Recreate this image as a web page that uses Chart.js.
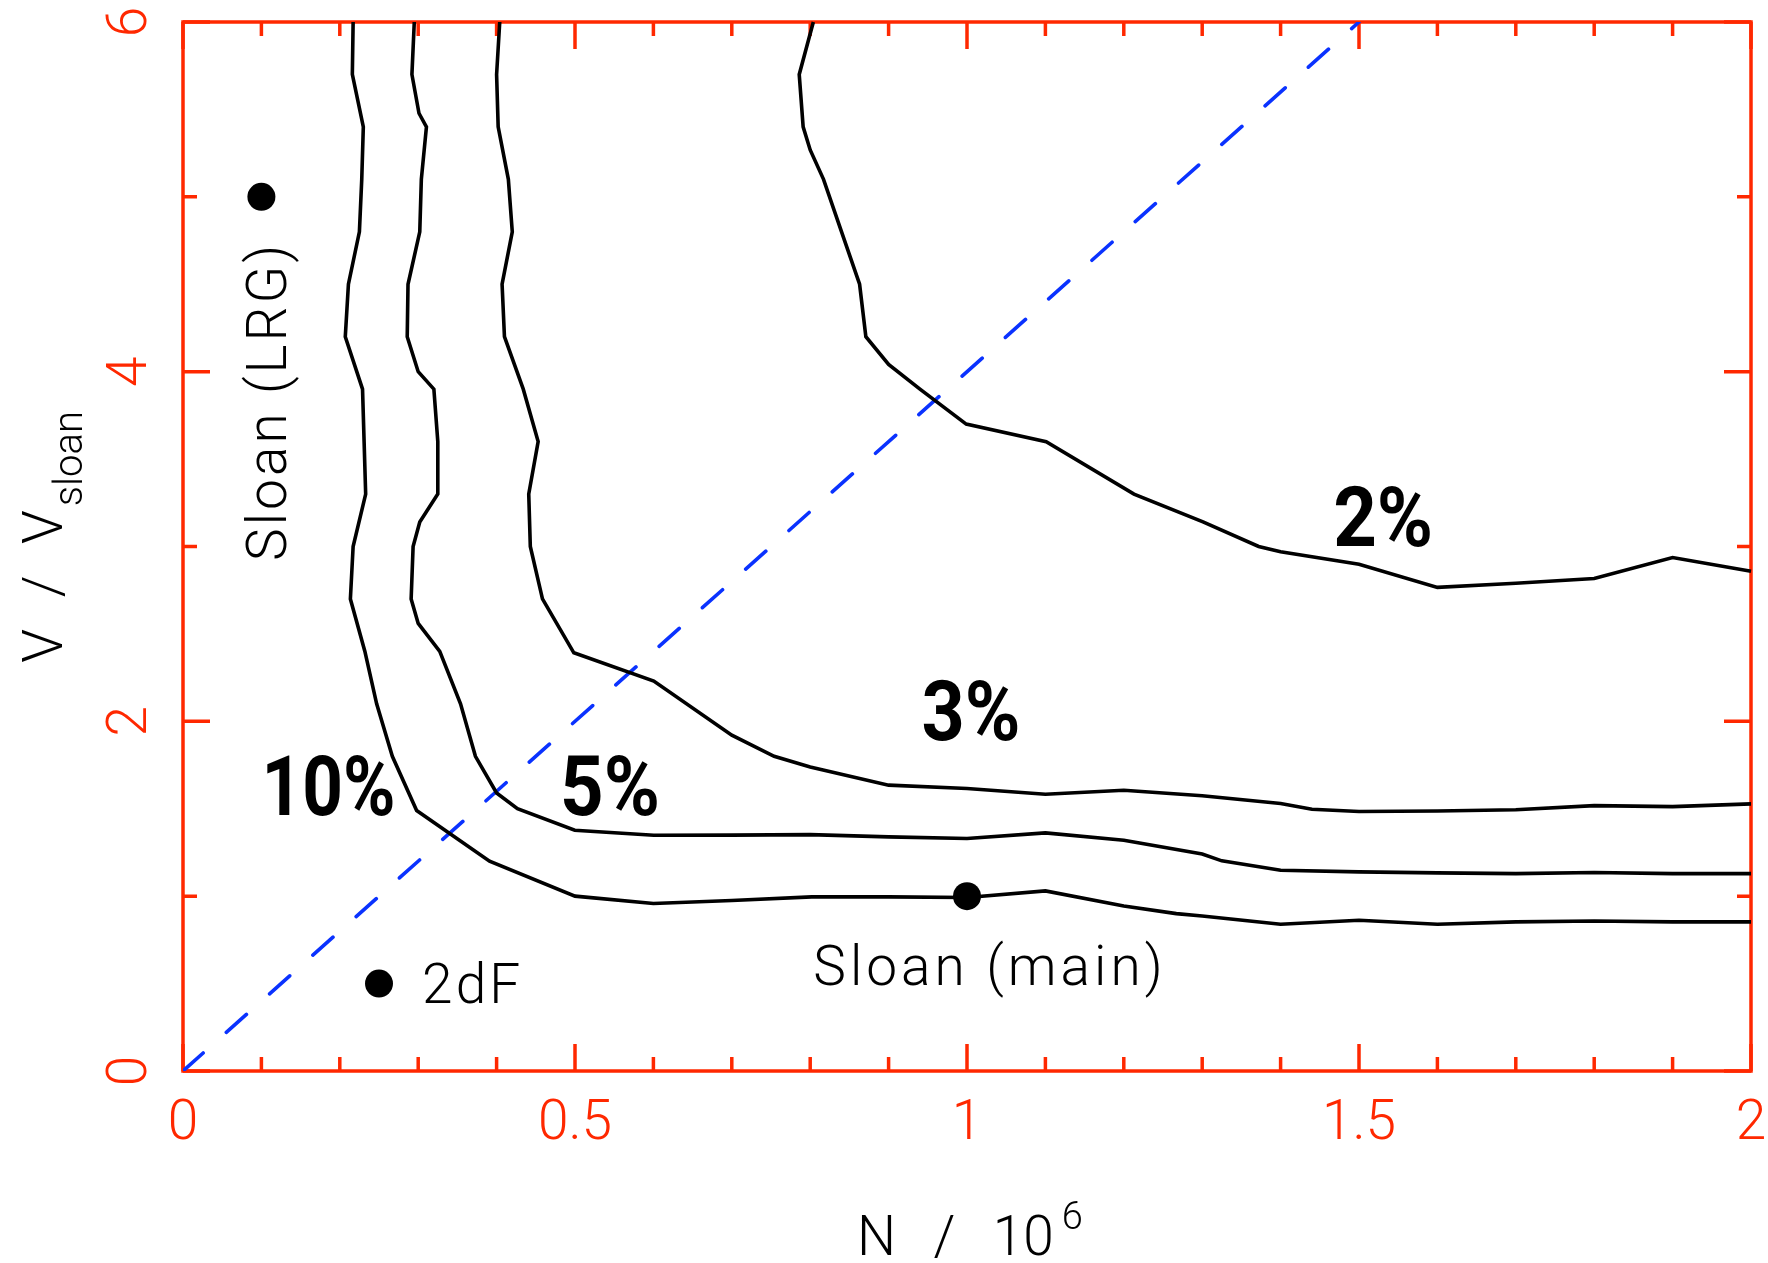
<!DOCTYPE html>
<html>
<head>
<meta charset="utf-8">
<title>Survey precision contours</title>
<script src="https://cdn.jsdelivr.net/npm/chart.js@4.4.1/dist/chart.umd.min.js"></script>
<style>
  html, body { margin: 0; padding: 0; background: #ffffff; }
  canvas { display: block; }
</style>
</head>
<body>
<canvas id="chart" width="1768" height="1263"></canvas>
<script>
// Fractional-error contours in the (N / 10^6, V / V_sloan) plane.
const contourLevels = ['10%', '5%', '3%', '2%'];

const c10N = [0.217, 0.216, 0.230, 0.228, 0.225, 0.211, 0.207, 0.229, 0.231, 0.233, 0.217, 0.2135,
              0.232, 0.247, 0.267, 0.298, 0.391, 0.500, 0.600, 0.700, 0.802, 0.900, 1.000, 1.100,
              1.200, 1.267, 1.300, 1.400, 1.500, 1.600, 1.700, 1.800, 1.900, 2.000];
const c10V = [6.0, 5.7, 5.4, 5.1, 4.8, 4.5, 4.2, 3.9, 3.6, 3.3, 3.0, 2.7,
              2.4, 2.1, 1.8, 1.49, 1.20, 1.00, 0.958, 0.975, 0.996, 0.996, 0.992, 1.030,
              0.944, 0.900, 0.887, 0.839, 0.862, 0.839, 0.853, 0.858, 0.853, 0.853];

const c5N = [0.295, 0.292, 0.301, 0.3105, 0.304, 0.302, 0.287, 0.286, 0.300, 0.320, 0.325, 0.325,
             0.302, 0.2935, 0.291, 0.300, 0.3275, 0.354, 0.373, 0.400, 0.4266, 0.4997, 0.6005, 0.700,
             0.800, 0.900, 1.000, 1.100, 1.200, 1.300, 1.325, 1.400, 1.500, 1.600, 1.700, 1.800,
             1.900, 2.000];
const c5V = [6.0, 5.7, 5.478, 5.4, 5.1, 4.8, 4.5, 4.2, 4.0, 3.9, 3.6, 3.3,
             3.14, 3.0, 2.70, 2.56, 2.4, 2.1, 1.8, 1.59, 1.50, 1.377, 1.348, 1.349,
             1.352, 1.339, 1.330, 1.362, 1.320, 1.241, 1.202, 1.148, 1.139, 1.133, 1.129, 1.135,
             1.129, 1.129];

const c3N = [0.404, 0.400, 0.402, 0.415, 0.420, 0.407, 0.410, 0.434, 0.453, 0.441, 0.443, 0.4585,
             0.4985, 0.6005, 0.700, 0.754, 0.800, 0.900, 1.000, 1.100, 1.200, 1.300, 1.400, 1.440,
             1.500, 1.600, 1.700, 1.800, 1.900, 2.000];
const c3V = [6.0, 5.7, 5.4, 5.1, 4.8, 4.5, 4.2, 3.9, 3.6, 3.3, 3.0, 2.7,
             2.392, 2.23, 1.921, 1.80, 1.739, 1.635, 1.616, 1.583, 1.606, 1.574, 1.530, 1.497,
             1.484, 1.487, 1.494, 1.518, 1.512, 1.528];

const c2N = [0.804, 0.786, 0.791, 0.800, 0.817, 0.840, 0.863, 0.871, 0.900, 0.940, 0.999, 1.101,
             1.213, 1.301, 1.372, 1.400, 1.500, 1.600, 1.700, 1.800, 1.900, 2.000];
const c2V = [6.0, 5.7, 5.4, 5.268, 5.1, 4.8, 4.5, 4.2, 4.041, 3.9, 3.70, 3.599,
             3.30, 3.141, 3.0, 2.970, 2.899, 2.766, 2.790, 2.817, 2.937, 2.858];

// Reference line V / V_sloan = 4 N / 10^6
const diagN = [0, 1.5];
const diagV = [0, 6];

// Existing surveys
const surveyNames = ['Sloan (LRG)', '2dF', 'Sloan (main)'];
const surveyN = [0.1, 0.25, 1.0];
const surveyV = [5.0, 0.5, 1.0];

// Axis ticks
const xTickValues = [0, 0.5, 1, 1.5, 2];
const xTickLabels = ['0', '0.5', '1', '1.5', '2'];
const yTickValues = [0, 2, 4, 6];
const yTickLabels = ['0', '2', '4', '6'];

const RED = 'rgb(255,40,0)';
const BLUE = 'rgb(10,50,255)';
const INK = '#000000';
const THIN_FONT = '"Roboto", "Liberation Sans", sans-serif';

const pts = (xs, ys) => xs.map((v, i) => ({ x: v, y: ys[i] }));

const contourSets = [[c10N, c10V], [c5N, c5V], [c3N, c3V], [c2N, c2V]].map((pair, i) => ({
  label: contourLevels[i],
  data: pts(pair[0], pair[1]),
  showLine: true,
  borderColor: INK,
  borderWidth: 3.6,
  pointRadius: 0,
  tension: 0,
  borderJoinStyle: 'miter',
  clip: 4
}));

// Frame, ticks and tick labels in IDL style (drawn beneath the curves)
const frameAxes = {
  id: 'frameAxes',
  beforeDatasetsDraw(chart) {
    const { ctx, chartArea: a, scales: { x, y } } = chart;
    ctx.save();
    ctx.strokeStyle = RED;
    ctx.lineWidth = 3.5;
    ctx.beginPath();
    for (let i = 0; i <= 20; i++) {
      const px = x.getPixelForValue(i / 10);
      const len = i % 5 === 0 ? 27 : 14;
      ctx.moveTo(px, a.bottom); ctx.lineTo(px, a.bottom - len);
      ctx.moveTo(px, a.top); ctx.lineTo(px, a.top + len);
    }
    for (let j = 0; j <= 6; j++) {
      const py = y.getPixelForValue(j);
      const len = j % 2 === 0 ? 27 : 14;
      ctx.moveTo(a.left, py); ctx.lineTo(a.left + len, py);
      ctx.moveTo(a.right, py); ctx.lineTo(a.right - len, py);
    }
    ctx.stroke();
    ctx.strokeRect(a.left, a.top, a.right - a.left, a.bottom - a.top);

    ctx.fillStyle = RED;
    ctx.font = '300 55px ' + THIN_FONT;
    ctx.textAlign = 'center';
    ctx.textBaseline = 'alphabetic';
    xTickValues.forEach((v, i) => {
      ctx.fillText(xTickLabels[i], x.getPixelForValue(v), a.bottom + 68);
    });
    yTickValues.forEach((v, i) => {
      ctx.save();
      ctx.translate(a.left - 37, y.getPixelForValue(v));
      ctx.rotate(-Math.PI / 2);
      ctx.fillText(yTickLabels[i], 0, 0);
      ctx.restore();
    });
    ctx.restore();
  },

  afterDatasetsDraw(chart) {
    const { ctx, chartArea: a, scales: { x, y } } = chart;
    ctx.save();
    ctx.fillStyle = INK;
    ctx.textBaseline = 'alphabetic';

    // contour level labels
    const levelAnchors = [[0.100, 1.463, 134], [0.481, 1.463, 100], [0.942, 1.892, 99], [1.467, 3.004, 100]];
    ctx.font = 'bold 84px "Roboto", "DejaVu Sans", sans-serif';
    ctx.textAlign = 'left';
    contourLevels.forEach((t, i) => {
      const [n, v, w] = levelAnchors[i];
      ctx.fillText(t, x.getPixelForValue(n), y.getPixelForValue(v), w);
    });

    // survey names
    ctx.font = '300 55px ' + THIN_FONT;
    ctx.letterSpacing = '3px';
    ctx.fillText(surveyNames[1], x.getPixelForValue(0.305), y.getPixelForValue(0.389));
    ctx.letterSpacing = '4px';
    ctx.fillText(surveyNames[2], x.getPixelForValue(0.804), y.getPixelForValue(0.490));
    ctx.letterSpacing = '3px';
    ctx.save();
    ctx.translate(x.getPixelForValue(0.132), y.getPixelForValue(3.83));
    ctx.rotate(-Math.PI / 2);
    ctx.textAlign = 'center';
    ctx.fillText(surveyNames[0], 0, 0);
    ctx.restore();
    ctx.letterSpacing = '0px';

    // axis titles
    ctx.textAlign = 'left';
    ctx.wordSpacing = '24px';
    ctx.font = '300 55px ' + THIN_FONT;
    const xt = 'N / 10';
    const xw = ctx.measureText(xt).width;
    const xStart = 857;
    ctx.fillText(xt, xStart, a.bottom + 184);
    ctx.wordSpacing = '0px';
    ctx.font = '300 38px ' + THIN_FONT;
    ctx.fillText('6', xStart + xw + 8, a.bottom + 158);

    ctx.save();
    ctx.font = '300 55px ' + THIN_FONT;
    ctx.wordSpacing = '18px';
    const yt = 'V / V';
    const yw = ctx.measureText(yt).width;
    ctx.wordSpacing = '0px';
    ctx.font = '300 40px ' + THIN_FONT;
    const sw = ctx.measureText('sloan').width;
    const total = yw + 4 + sw;
    ctx.translate(a.left - 121, y.getPixelForValue(3.055) + total / 2);
    ctx.rotate(-Math.PI / 2);
    ctx.font = '300 55px ' + THIN_FONT;
    ctx.wordSpacing = '18px';
    ctx.fillText(yt, 0, 0);
    ctx.wordSpacing = '0px';
    ctx.font = '300 40px ' + THIN_FONT;
    ctx.fillText('sloan', yw + 4, 20);
    ctx.restore();

    ctx.restore();
  }
};

new Chart(document.getElementById('chart'), {
  type: 'scatter',
  data: {
    datasets: [
      ...contourSets,
      {
        label: 'V = 4N',
        data: pts(diagN, diagV),
        showLine: true,
        borderColor: BLUE,
        borderWidth: 3.6,
        borderDash: [27, 31],
        borderCapStyle: 'round',
        pointRadius: 0,
        tension: 0
      },
      {
        label: 'surveys',
        data: pts(surveyN, surveyV),
        showLine: false,
        pointStyle: 'circle',
        pointRadius: 14,
        pointBackgroundColor: INK,
        pointBorderColor: INK,
        pointBorderWidth: 0,
        clip: false
      }
    ]
  },
  options: {
    responsive: false,
    devicePixelRatio: 1,
    animation: false,
    layout: { padding: { left: 183, top: 22, right: 17, bottom: 192 } },
    plugins: { legend: { display: false }, tooltip: { enabled: false } },
    scales: {
      x: { type: 'linear', min: 0, max: 2, display: false },
      y: { type: 'linear', min: 0, max: 6, display: false }
    }
  },
  plugins: [frameAxes]
});
</script>
</body>
</html>
